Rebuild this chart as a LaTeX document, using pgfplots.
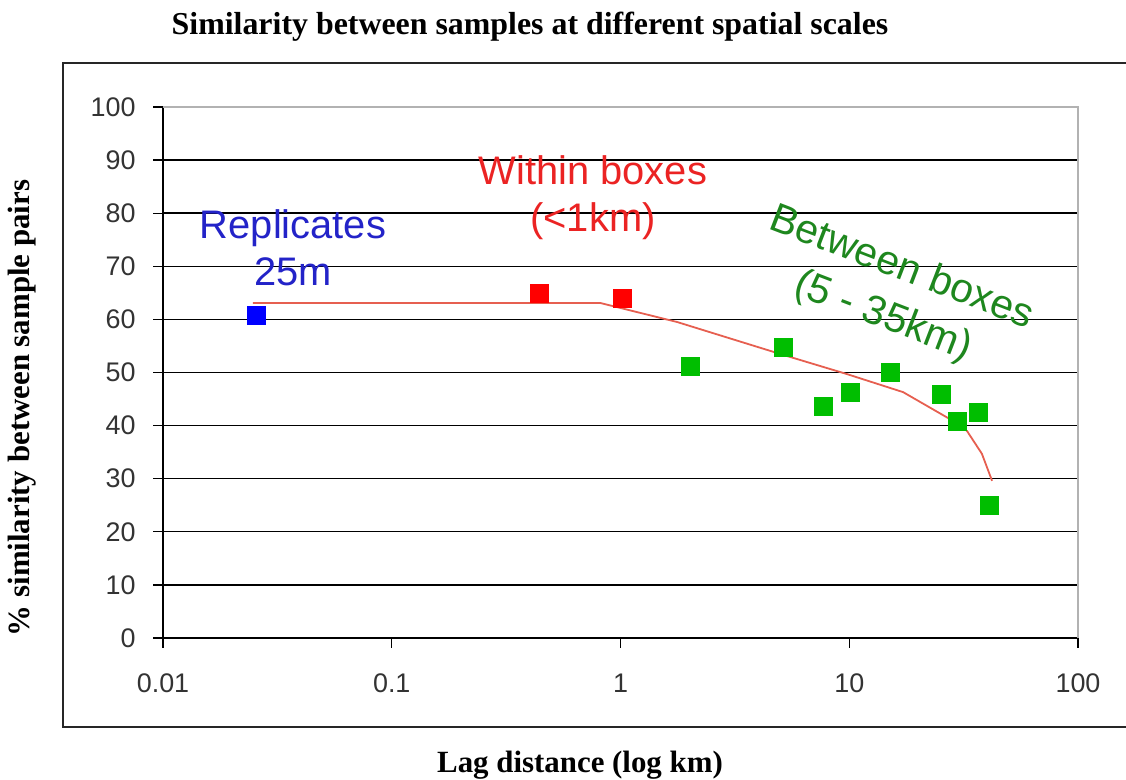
\documentclass[border=0pt]{standalone}
\usepackage{fontspec}
\setmainfont{Liberation Sans}
\newfontfamily\timesfont{Liberation Serif}
\usepackage{pgfplots}
\pgfplotsset{compat=1.18}
\definecolor{repblue}{RGB}{0,0,255}
\definecolor{reptext}{RGB}{35,35,200}
\definecolor{withred}{RGB}{255,0,0}
\definecolor{withtext}{RGB}{235,35,35}
\definecolor{btwgreen}{RGB}{0,190,0}
\definecolor{btwtext}{RGB}{30,135,30}
\definecolor{trend}{RGB}{230,95,80}
\begin{document}
\begin{tikzpicture}[x=1bp,y=1bp]
\useasboundingbox (0,0) rectangle (1126,780);
% outer chart frame
\draw[line width=1.5bp,black!85] (1140,717) -- (63,717) -- (63,53) -- (1140,53);
\begin{axis}[
  at={(163bp,142bp)}, anchor=south west,
  scale only axis, width=915bp, height=531bp,
  xmode=log, xmin=0.01, xmax=100, ymin=0, ymax=100,
  axis x line*=bottom, axis y line*=left,
  axis line style={-, black, line width=1.5bp},
  xtick={0.01,0.1,1,10,100},
  xticklabels={0.01,0.1,1,10,100},
  xminorticks=false,
  ytick={0,10,...,100},
  ymajorgrids, grid style={black, line width=1.4bp},
  tick style={black, line width=1.3bp},
  major tick length=10bp,
  tick align=outside,
  ticklabel style={font=\fontsize{27}{32}\selectfont, text=black!80},
  /pgf/number format/assume math mode=true,
  xticklabel style={yshift=-22bp},
  yticklabel style={xshift=-14bp},
  clip=false,
]
\draw[gray!60, line width=1.5bp] (rel axis cs:0,1) -- (rel axis cs:1,1) -- (rel axis cs:1,0);
\addplot[trend, line width=1.8bp] coordinates {
 (0.0247,63.1) (0.814,63.1) (1.77,59.5) (4.98,53.5) (9.77,49.7)
 (17.2,46.3) (27.6,41.2) (32.7,39.0) (38.0,34.7) (42.1,29.6)
};
\addplot[only marks, mark=square*, mark size=9bp, mark options={draw=repblue, fill=repblue}] coordinates {
 (0.0256,60.8)
};
\addplot[only marks, mark=square*, mark size=9bp, mark options={draw=withred, fill=withred}] coordinates {
 (0.44,65.0) (1.02,63.9)
};
\addplot[only marks, mark=square*, mark size=9bp, mark options={draw=btwgreen, fill=btwgreen}] coordinates {
 (2.01,51.2) (5.13,54.8) (7.68,43.7) (10.07,46.2) (15.07,50.1)
 (25.2,46.0) (29.6,40.9) (36.6,42.6) (40.8,25.1)
};
\end{axis}
% annotations
\node[text=reptext, align=center, font=\fontsize{40}{47}\selectfont] at (293,532) {Replicates\\25m};
\node[text=withtext, align=center, font=\fontsize{40}{47}\selectfont] at (593,582) {Within boxes\\(<1km)};
\node[text=btwtext, align=center, rotate=-21, font=\fontsize{41}{52}\selectfont] at (892,487) {Between boxes\\(5 - 35km)};
% titles
\node[font=\timesfont\bfseries\fontsize{32}{38}\selectfont] at (530,753) {Similarity between samples at different spatial scales};
\node[font=\timesfont\bfseries\fontsize{31}{37}\selectfont] at (580,15) {Lag distance (log km)};
\node[font=\timesfont\bfseries\fontsize{31}{37}\selectfont, rotate=90] at (22,372) {\% similarity between sample pairs};
\end{tikzpicture}
\end{document}
